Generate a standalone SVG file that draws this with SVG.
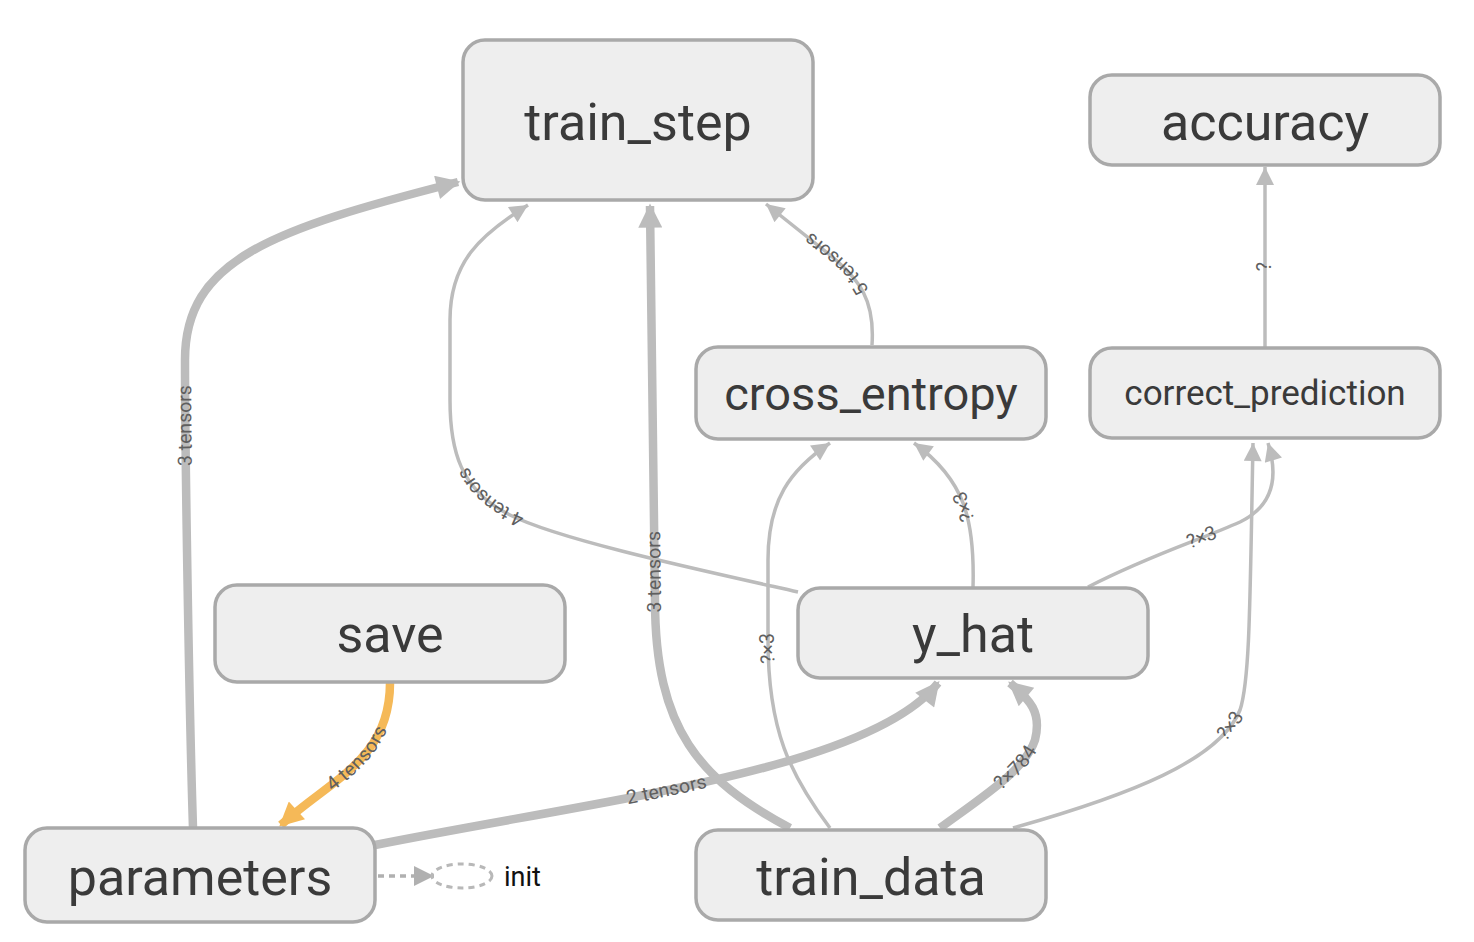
<svg xmlns="http://www.w3.org/2000/svg" xmlns:xlink="http://www.w3.org/1999/xlink" width="1474" height="942" viewBox="0 0 1474 942">
<style>
.node rect{fill:#eeeeee;stroke:#a9a9a9;stroke-width:3.5}
.node text{font-family:Roboto,"Liberation Sans",sans-serif;fill:#3a3a3a;text-anchor:middle}
.big{font-size:52px}
.mid{font-size:47px}
.small{font-size:35px}
.e{fill:none;stroke:#bcbcbc}
.thin{stroke-width:3.5}
.thick{stroke-width:8.5}
.ref{fill:none;stroke:#f5b958;stroke-width:8.5}
.lbl{font-family:Roboto,"Liberation Sans",sans-serif;font-size:19.5px;fill:#5f5f5f;text-anchor:middle}
</style>
<defs>
<marker id="at" viewBox="0 0 10 10" refX="10" refY="5" markerWidth="22" markerHeight="18" markerUnits="userSpaceOnUse" orient="auto"><path d="M0,0 L10,5 L0,10 z" fill="#bcbcbc"/></marker>
<marker id="ak" viewBox="0 0 10 10" refX="9" refY="5" markerWidth="26" markerHeight="24" markerUnits="userSpaceOnUse" orient="auto"><path d="M0,0 L10,5 L0,10 z" fill="#bcbcbc"/></marker>
<marker id="ao" viewBox="0 0 10 10" refX="9" refY="5" markerWidth="26" markerHeight="24" markerUnits="userSpaceOnUse" orient="auto"><path d="M0,0 L10,5 L0,10 z" fill="#f5b958"/></marker>
<marker id="ad" viewBox="0 0 10 10" refX="10" refY="5" markerWidth="24" markerHeight="20" markerUnits="userSpaceOnUse" orient="auto"><path d="M0,0 L10,5 L0,10 z" fill="#b0b0b0"/></marker>
</defs>
<g id="edges">
<path id="p1" class="e thick" d="M193,828 C189,700 185,450 185,360 C185,260 270,230 458,182" marker-end="url(#ak)"/>
<path id="p4" class="e thick" d="M790,828 C700,780 655,730 655,600 L650,206" marker-end="url(#ak)"/>
<path id="p3" class="e thick" d="M375,845 C600,800 870,770 938,683" marker-end="url(#ak)"/>
<path id="p10" class="e thick" d="M940,828 C985,795 1025,770 1035,740 C1042,712 1030,700 1010,683" marker-end="url(#ak)"/>
<path id="p5" class="e thin" d="M798,592 C700,570 560,540 510,515 C460,490 450,450 450,400 L450,320 C450,262 480,235 528,205" marker-end="url(#at)"/>
<path id="p6" class="e thin" d="M872,345 C875,300 860,280 830,255 L766,204" marker-end="url(#at)"/>
<path id="p7" class="e thin" d="M830,828 C790,775 768,730 768,640 L768,560 C768,500 790,470 830,443" marker-end="url(#at)"/>
<path id="p8" class="e thin" d="M973,588 C975,520 965,480 914,443" marker-end="url(#at)"/>
<path id="p9" class="e thin" d="M1088,587 C1150,555 1200,540 1240,522 C1275,505 1278,475 1268,443" marker-end="url(#at)"/>
<path id="p11" class="e thin" d="M1013,828 C1130,795 1220,760 1240,710 C1250,680 1250,600 1253,443" marker-end="url(#at)"/>
<path id="p12" class="e thin" d="M1265,348 L1265,167" marker-end="url(#at)"/>
<path class="ref" d="M390,683 C390,760 330,780 281,825" marker-end="url(#ao)"/>
<path id="p2l" fill="none" d="M285,822 C330,780 390,760 390,683"/>
<path d="M378,876 L434,876" fill="none" stroke="#b0b0b0" stroke-width="3.5" stroke-dasharray="6,5" marker-end="url(#ad)"/>
<text class="lbl" dy="6"><textPath href="#p1" xlink:href="#p1" startOffset="49%">3 tensors</textPath></text>
<text class="lbl" dy="6"><textPath href="#p4" xlink:href="#p4" startOffset="46%">3 tensors</textPath></text>
<text class="lbl" dy="6"><textPath href="#p3" xlink:href="#p3" startOffset="50%">2 tensors</textPath></text>
<text class="lbl" dy="6"><textPath href="#p10" xlink:href="#p10" startOffset="49%">?×784</textPath></text>
<text class="lbl" dy="6"><textPath href="#p5" xlink:href="#p5" startOffset="49%">4 tensors</textPath></text>
<text class="lbl" dy="6"><textPath href="#p6" xlink:href="#p6" startOffset="50%">5 tensors</textPath></text>
<text class="lbl" dy="6"><textPath href="#p7" xlink:href="#p7" startOffset="46%">?×3</textPath></text>
<text class="lbl" dy="6"><textPath href="#p8" xlink:href="#p8" startOffset="50%">?×3</textPath></text>
<text class="lbl" dy="6"><textPath href="#p9" xlink:href="#p9" startOffset="48%">?×3</textPath></text>
<text class="lbl" dy="6"><textPath href="#p11" xlink:href="#p11" startOffset="46%">?×3</textPath></text>
<text class="lbl" dy="6"><textPath href="#p12" xlink:href="#p12" startOffset="45%">?</textPath></text>
<text class="lbl" dy="6"><textPath href="#p2l" xlink:href="#p2l" startOffset="53%">4 tensors</textPath></text>
</g>
<g id="train_step" class="node"><rect x="463" y="40" width="350" height="160" rx="22"/><text class="big" x="638" y="140">train_step</text></g>
<g id="accuracy" class="node"><rect x="1090" y="75" width="350" height="90" rx="22"/><text class="big" x="1265" y="140">accuracy</text></g>
<g id="cross_entropy" class="node"><rect x="696" y="347" width="350" height="92" rx="22"/><text class="mid" x="871" y="410">cross_entropy</text></g>
<g id="correct_prediction" class="node"><rect x="1090" y="348" width="350" height="90" rx="22"/><text class="small" x="1265" y="405">correct_prediction</text></g>
<g id="save" class="node"><rect x="215" y="585" width="350" height="97" rx="22"/><text class="big" x="390" y="652">save</text></g>
<g id="y_hat" class="node"><rect x="798" y="588" width="350" height="90" rx="22"/><text class="big" x="973" y="652">y_hat</text></g>
<g id="parameters" class="node"><rect x="25" y="828" width="350" height="94" rx="22"/><text class="big" x="200" y="895">parameters</text></g>
<g id="train_data" class="node"><rect x="696" y="830" width="350" height="90" rx="22"/><text class="big" x="871" y="895">train_data</text></g>
<g id="init"><ellipse cx="462" cy="876" rx="30" ry="12" fill="none" stroke="#b8b8b8" stroke-width="3" stroke-dasharray="6,5"/><text x="504" y="886" font-family="Roboto,'Liberation Sans',sans-serif" font-size="27" fill="#111">init</text></g>
</svg>
